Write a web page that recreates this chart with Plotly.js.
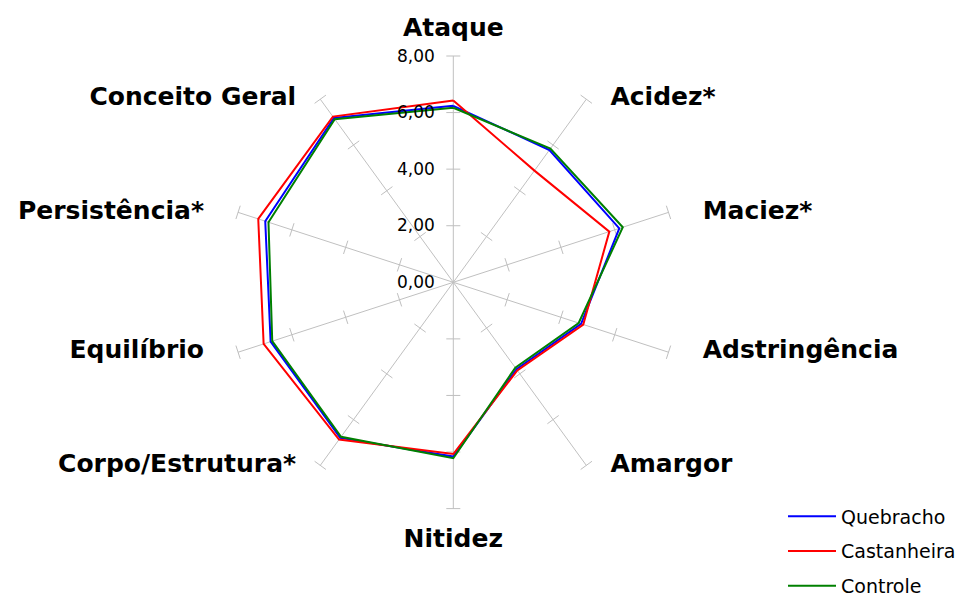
<!DOCTYPE html>
<html>
<head>
<meta charset="utf-8">
<script src="https://cdn.plot.ly/plotly-3.0.1.min.js"></script>
<style>html,body{margin:0;padding:0;background:#fff;}#chart{width:976px;height:599px;}</style>
</head>
<body>
<div id="chart"></div>
<script>
// Attributes (radar axes), clockwise from the top
var categories = ["Ataque", "Acidez*", "Maciez*", "Adstringência", "Amargor", "Nitidez",
  "Corpo/Estrutura*", "Equilíbrio", "Persistência*", "Conceito Geral"];

// Series values
var quebracho   = [6.24, 5.78, 6.17, 4.75, 3.80, 6.16, 6.80, 6.79, 6.99, 7.18];
var castanheira = [6.43, 4.88, 5.80, 4.83, 3.85, 6.07, 6.87, 7.05, 7.25, 7.24];
var controle    = [6.17, 5.84, 6.30, 4.66, 3.73, 6.22, 6.75, 6.73, 6.87, 7.13];

var seriesNames = ["Quebracho", "Castanheira", "Controle"];
var seriesColors = ["#0000ff", "#ff0000", "#008000"];

// Radial tick values
var radialTicks = [0, 2, 4, 6, 8];

var rMax = radialTicks[radialTicks.length - 1];
var N = categories.length;

function closed(a) { return a.concat([a[0]]); }

var traces = [];

// Small tick marks across each spoke at every non-zero radial tick
var tr = [], tt = [], ta = [];
categories.forEach(function (c, k) {
  radialTicks.forEach(function (v) {
    if (v === 0) return;
    tr.push(v); tt.push(c); ta.push(k * 360 / N);
  });
});
traces.push({
  type: "scatterpolar",
  mode: "markers",
  r: tr,
  theta: tt,
  showlegend: false,
  hoverinfo: "skip",
  cliponaxis: false,
  marker: {
    symbol: "line-ew",
    size: 10,
    angle: ta,
    angleref: "up",
    color: "#bfbfbf",
    line: { color: "#bfbfbf", width: 1 }
  }
});

[quebracho, castanheira, controle].forEach(function (vals, i) {
  traces.push({
    type: "scatterpolar",
    mode: "lines",
    r: closed(vals),
    theta: closed(categories),
    name: seriesNames[i],
    legendgroup: "g" + i,
    line: { color: seriesColors[i], width: 2 },
    hoverinfo: "skip",
    cliponaxis: false
  });
});

// Category labels placed at the spoke ends (Excel-like placement)
var labelPos = categories.map(function (c, k) {
  var a = k * 360 / N;
  if (a === 0) return "top center";
  if (a === 180) return "bottom center";
  return a < 180 ? "middle right" : "middle left";
});
var labelGap = categories.map(function (c, k) {
  var a = k * 360 / N;
  if (a === 0) return 20;
  if (a === 180) return 30;
  var s = Math.abs(Math.sin(a * Math.PI / 180));
  return s > 0.9 ? 53 : 37;
});
traces.push({
  type: "scatterpolar",
  mode: "markers+text",
  r: categories.map(function () { return rMax; }),
  theta: categories,
  text: categories,
  textposition: labelPos,
  textfont: { family: "DejaVu Sans, Arial, sans-serif", size: 25, weight: "bold", color: "#000" },
  marker: { size: labelGap, color: "rgba(0,0,0,0)", line: { width: 0 } },
  showlegend: false,
  hoverinfo: "skip",
  cliponaxis: false
});

var W = 976, H = 599;
var cx = 453.3, cy = 282.3, R = 226.3;

var layout = {
  width: W,
  height: H,
  margin: { l: 0, r: 0, t: 0, b: 0, autoexpand: false },
  paper_bgcolor: "#ffffff",
  separators: ",.",
  hovermode: false,
  font: { family: "DejaVu Sans, Arial, sans-serif", color: "#000000" },
  showlegend: true,
  legend: {
    x: 783 / W, y: 1 - 497.5 / H, xanchor: "left", yanchor: "top",
    font: { family: "DejaVu Sans, Arial, sans-serif", size: 19, color: "#000" },
    traceorder: "grouped",
    tracegroupgap: 7,
    itemwidth: 48,
    bgcolor: "rgba(0,0,0,0)"
  },
  polar: {
    domain: { x: [(cx - R) / W, (cx + R) / W], y: [1 - (cy + R) / H, 1 - (cy - R) / H] },
    bgcolor: "#ffffff",
    radialaxis: {
      range: [0, rMax],
      angle: 90,
      side: "counterclockwise",
      tickvals: radialTicks,
      tickformat: ".2f",
      showgrid: false,
      showline: false,
      ticks: "outside",
      ticklen: 12,
      tickcolor: "rgba(0,0,0,0)",
      tickangle: 90,
      tickfont: { family: "DejaVu Sans, Arial, sans-serif", size: 17, color: "#000" }
    },
    angularaxis: {
      categoryorder: "array",
      categoryarray: categories,
      direction: "clockwise",
      rotation: 90,
      showline: false,
      showticklabels: false,
      ticks: "",
      gridcolor: "#c0c0c0",
      gridwidth: 1
    }
  }
};

Plotly.newPlot("chart", traces, layout, { displayModeBar: false, staticPlot: true });
</script>
</body>
</html>
